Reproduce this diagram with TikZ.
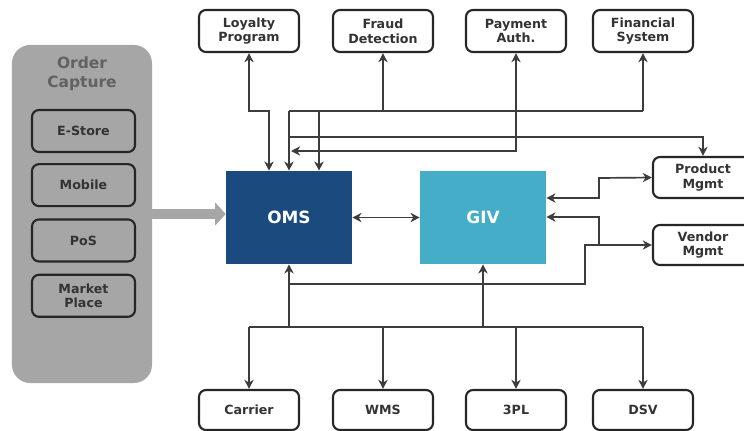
\documentclass[tikz,border=0pt]{standalone}
\usepackage{fontspec}
\setmainfont{DejaVu Sans}
\usetikzlibrary{positioning}
\usetikzlibrary{arrows.meta}
\definecolor{omsblue}{HTML}{1B4A7E}
\definecolor{givcyan}{HTML}{46ADC8}
\definecolor{capgray}{HTML}{A6A6A6}
\definecolor{linegray}{HTML}{3C3C3C}
\tikzstyle{sys}=[draw=black!85, line width=1.5pt, rounded corners=5pt, fill=white, minimum width=2.5cm, minimum height=1.05cm, align=center, text=black!80, font=\bfseries\fontsize{9}{10.5}\selectfont]
\tikzstyle{channel}=[sys, fill=capgray, minimum width=2.575cm]
\tikzstyle{core}=[minimum width=3.15cm, minimum height=2.325cm, text=white, font=\bfseries\fontsize{12}{14}\selectfont]
\tikzstyle{link}=[draw=linegray, line width=1.2pt]
\tikzstyle{feed}=[draw=capgray, line width=6.5pt, -{Triangle[length=7.5pt,width=16pt]}]

\begin{document}
\begin{tikzpicture}[x=0.025cm, y=-0.025cm, >={Stealth[length=6.5pt,width=6.5pt,inset=2pt]}]
    \useasboundingbox (0,0) rectangle (744,430);
    \clip (0,0) rectangle (744,430);

    % order capture channels
    \node[fill=capgray, rounded corners=13pt, minimum width=3.5cm, minimum height=8.45cm] (capture) at (82,214) {};
    \node[align=center, text=black!62, font=\bfseries\fontsize{11}{13.5}\selectfont] (captitle) at (82,74) {Order\\Capture};
    \node[channel] (estore)                       at (83.5,131) {E-Store};
    \node[channel] (mobile) [below = 0.25cm of estore]  {Mobile};
    \node[channel] (pos)    [below = 0.28cm of mobile]  {PoS};
    \node[channel] (market) [below = 0.28cm of pos]     {Market\\Place};

    % core systems
    \node[core, fill=omsblue] (oms) at (289,217.5) {OMS};
    \node[core, fill=givcyan] (giv) at (483,217.5) {GIV};

    % top row
    \node[sys] (loyalty)   at (249,31) {Loyalty\\Program};
    \node[sys] (fraud)     at (383,31) {Fraud\\Detection};
    \node[sys] (payment)   at (516,31) {Payment\\Auth.};
    \node[sys] (financial) at (643,31) {Financial\\System};

    % right side
    \node[sys, minimum height=1.025cm] (product) at (703,177.5) {Product\\Mgmt};
    \node[sys, minimum height=1cm]     (vendor)  at (703,245)   {Vendor\\Mgmt};

    % bottom row
    \node[sys, minimum height=1cm] (carrier) at (249,410) {Carrier};
    \node[sys, minimum height=1cm] (wms)     at (383,410) {WMS};
    \node[sys, minimum height=1cm] (tpl)     at (516,410) {3PL};
    \node[sys, minimum height=1cm] (dsv)     at (643,410) {DSV};

    % junctions
    \coordinate (loyknee) at (269,111);
    \coordinate (topbus)  at (289,111);
    \coordinate (toptap)  at (319,111);
    \coordinate (prodbus) at (289,137);
    \coordinate (payend)  at (291,151);
    \coordinate (prodknee) at (599,178);
    \coordinate (vendknee) at (599,245);
    \coordinate (vendtap)  at (585,245);
    \coordinate (omstap)   at (289,284);
    \coordinate (lowbus)   at (249,327);
    \coordinate (lowend)   at (643,327);

    % order feed
    \draw[feed] (capture.east |- 0,214) -- (oms.west |- 0,214);

    % top links
    \draw[link, <->] (loyalty.south) |- (loyknee) -- (loyknee |- oms.north);
    \draw[link] (topbus) -- (topbus -| financial);
    \draw[link, ->] (topbus) -- (topbus |- oms.north);
    \draw[link, ->] (toptap) -- (toptap |- oms.north);
    \draw[link, ->] (fraud |- topbus) -- (fraud.south);
    \draw[link, ->] (financial |- topbus) -- (financial.south);
    \draw[link, ->] (prodbus) -| (product.north);
    \draw[link, <->] (payment.south) |- (payend);

    % core link
    \draw[link, <->] (oms) -- (giv);

    % right links
    \draw[link, <->] (giv.east |- 0,198) -| (prodknee) -- (product.west);
    \draw[link, <->] (giv.east |- 0,217) -| (vendknee) -- (vendor.west);
    \draw[link] (omstap) -| (vendtap) -- (vendknee);

    % bottom links
    \draw[link] (lowbus) -- (lowend);
    \draw[link, ->] (oms.south |- lowbus) -- (oms.south);
    \draw[link, ->] (giv.south |- lowbus) -- (giv.south);
    \draw[link, ->] (lowbus) -- (carrier.north);
    \draw[link, ->] (wms |- lowbus) -- (wms.north);
    \draw[link, ->] (tpl |- lowbus) -- (tpl.north);
    \draw[link, ->] (lowend) -- (dsv.north);
\end{tikzpicture}
\end{document}
